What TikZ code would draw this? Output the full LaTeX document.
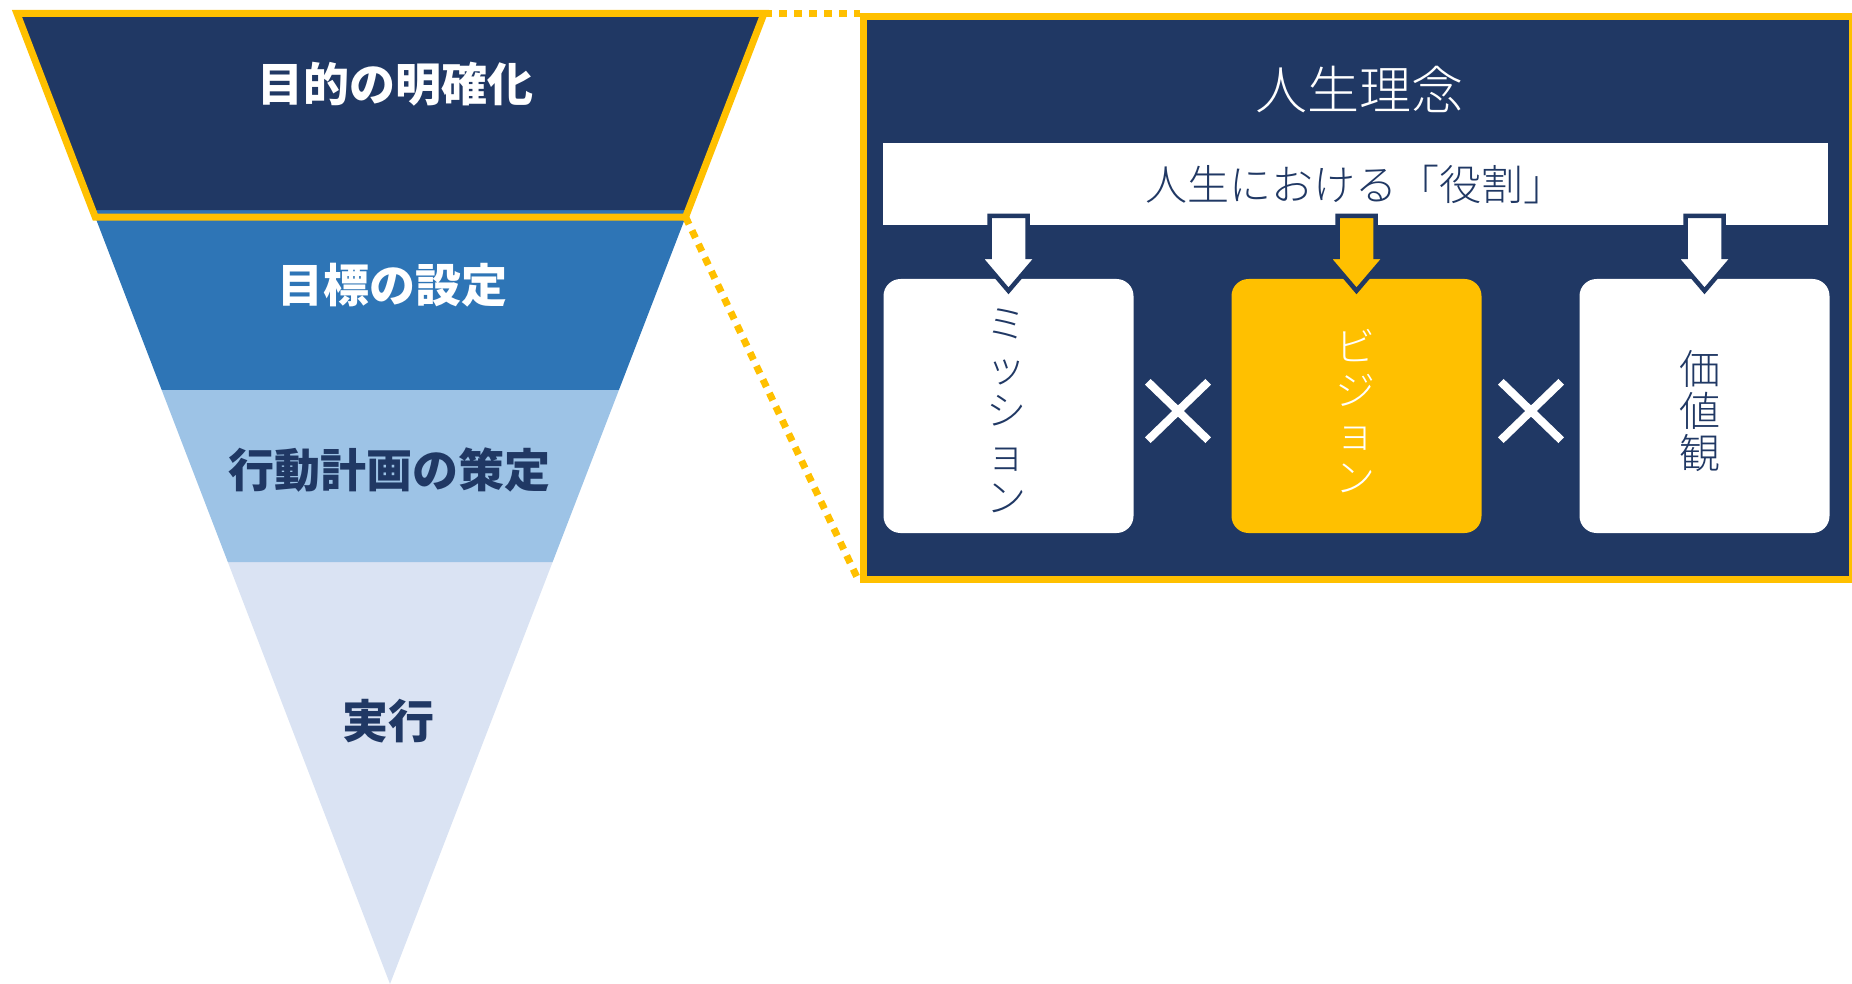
\documentclass[tikz,border=0pt]{standalone}
\usepackage{fontspec}
\newfontfamily\jp{Noto Sans CJK JP}
\newfontfamily\jpl{Noto Sans CJK JP Light}
\usetikzlibrary{calc}
\definecolor{navy}{HTML}{203864}
\definecolor{blueB}{HTML}{2E75B6}
\definecolor{blueC}{HTML}{9DC3E6}
\definecolor{blueD}{HTML}{DAE3F3}
\definecolor{gold}{HTML}{FFC000}
\tikzset{
  funtext/.style={inner sep=0pt, font=\jp\bfseries\fontsize{46}{50}\selectfont},
  goldline/.style={draw=gold, line width=7pt},
  golddots/.style={gold, line width=7pt, dash pattern=on 8pt off 7pt},
  rolebox/.style={rounded corners=17pt, minimum width=250pt, minimum height=254pt, inner sep=0pt},
  vtext/.style={inner sep=0pt, align=center, font=\jpl\fontsize{40}{43.5}\selectfont},
  xline/.style={white, line width=8pt},
  xbox/.style={minimum width=60pt, minimum height=58pt, inner sep=0pt},
  arrline/.style={draw=navy, line width=4.5pt, line join=miter},
  pics/blockarr/.style={code={
    \draw[arrline, fill=#1] (-19,-63) -- (19,-63) -- (19,-22) -- (29,-22) -- (0,12) -- (-29,-22) -- (-19,-22) -- cycle;
  }}
}
\begin{document}
\begin{tikzpicture}[x=1pt, y=-1pt]
\useasboundingbox (0,0) rectangle (1852,984);
% funnel
\coordinate (TL) at (17,13.5);
\coordinate (TR) at (764,13.5);
\coordinate (AP) at (390,984);
\fill[blueD] ($(TL)!0.5652!(AP)$) -- ($(TR)!0.5652!(AP)$) -- (AP) -- cycle;
\fill[blueC] ($(TL)!0.3879!(AP)$) -- ($(TR)!0.3879!(AP)$) -- ($(TR)!0.5652!(AP)$) -- ($(TL)!0.5652!(AP)$) -- cycle;
\fill[blueB] ($(TL)!0.2025!(AP)$) -- ($(TR)!0.2025!(AP)$) -- ($(TR)!0.3879!(AP)$) -- ($(TL)!0.3879!(AP)$) -- cycle;
\fill[navy] (TL) -- (TR) -- ($(TR)!0.2025!(AP)$) -- ($(TL)!0.2025!(AP)$) -- cycle;
\coordinate (FBL) at ($(TL)!0.2097!(AP)$);
\coordinate (FBR) at ($(TR)!0.2097!(AP)$);
\draw[goldline, line join=miter] (TL) -- (TR) -- (FBR) -- (FBL) -- cycle;
\node[funtext, text=white] (s1) at (395,84) {目的の明確化};
\node[funtext, text=white] (s2) at (392,285) {目標の設定};
\node[funtext, text=navy] (s3) at (389,470) {行動計画の策定};
\node[funtext, text=navy] (s4) at (388,721) {実行};
% panel
\node[goldline, fill=navy, minimum width=989pt, minimum height=562pt, inner sep=0pt, anchor=north west] (panel) at (859.5,13.5) {};
\draw[golddots] (TR) -- (panel.north west);
\draw[golddots] (FBR) -- (panel.south west);
\node[inner sep=0pt, text=white, font=\jpl\fontsize{52}{56}\selectfont] (title) at (1359,90) {人生理念};
\node[fill=white, minimum width=945pt, minimum height=82pt, inner sep=0pt, anchor=north west, text=navy, font=\jpl\fontsize{42}{46}\selectfont] (bar) at (883,143) {人生における「役割」};
% boxes
\node[rolebox, fill=white] (b1) at (1008.5,406) {};
\node[rolebox, fill=gold] (b2) at (1356.5,406) {};
\node[rolebox, fill=white] (b3) at (1704.5,406) {};
\node[vtext, text=navy] (t1) at (1006,411) {ミ\\ッ\\シ\\ョ\\ン};
\node[vtext, text=white] (t2) at (1355,411) {ビ\\ジ\\ョ\\ン};
\node[vtext, text=navy, font=\jpl\fontsize{41}{42}\selectfont] (t3) at (1700,411) {価\\値\\観};
% arrows from bar to boxes
\pic at (b1.north) {blockarr=white};
\pic at (b2.north) {blockarr=gold};
\pic at (b3.north) {blockarr=white};
% multiplication marks
\node[xbox] (x1) at (1178,411) {};
\node[xbox] (x2) at (1531,411) {};
\draw[xline] (x1.north west) -- (x1.south east) (x1.north east) -- (x1.south west);
\draw[xline] (x2.north west) -- (x2.south east) (x2.north east) -- (x2.south west);
\end{tikzpicture}
\end{document}
